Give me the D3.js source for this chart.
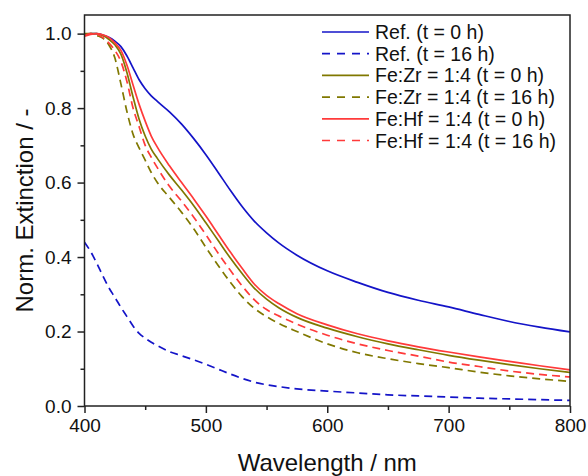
<!DOCTYPE html>
<html>
<head>
<meta charset="utf-8">
<script src="https://cdn.jsdelivr.net/npm/d3@7"></script>
<style>
body{margin:0;background:#fff;}
text{font-family:"Liberation Sans",Arial,sans-serif;fill:#111;}
</style>
</head>
<body>
<script>
let wavelength=[400,405,410,415,420,425,430,435,440,445,450,455,460,470,480,490,500,510,520,530,540,550,560,575,600,625,650,675,700,725,750,775,800];
let refT0=[0.998,1.0,1.0,0.996,0.99,0.98,0.965,0.94,0.908,0.876,0.852,0.833,0.818,0.79,0.757,0.718,0.675,0.628,0.58,0.535,0.496,0.465,0.438,0.405,0.363,0.332,0.305,0.284,0.266,0.246,0.227,0.212,0.199];
let refT16=[0.44,0.415,0.384,0.35,0.318,0.292,0.265,0.24,0.215,0.195,0.182,0.171,0.162,0.146,0.135,0.124,0.112,0.099,0.086,0.074,0.064,0.057,0.052,0.046,0.04,0.035,0.03,0.027,0.024,0.021,0.019,0.017,0.015];
let zrT0=[0.995,1.0,1.0,0.995,0.985,0.97,0.945,0.895,0.83,0.77,0.725,0.69,0.665,0.62,0.58,0.538,0.492,0.445,0.398,0.355,0.316,0.287,0.264,0.238,0.209,0.186,0.167,0.151,0.136,0.123,0.111,0.1,0.09];
let zrT16=[1.0,1.0,0.995,0.988,0.97,0.935,0.865,0.79,0.73,0.693,0.66,0.627,0.6,0.56,0.52,0.476,0.426,0.378,0.333,0.293,0.262,0.24,0.222,0.2,0.167,0.143,0.127,0.114,0.103,0.091,0.081,0.073,0.066];
let hfT0=[0.993,0.998,1.0,0.997,0.99,0.975,0.955,0.915,0.862,0.81,0.765,0.725,0.695,0.645,0.6,0.556,0.51,0.462,0.414,0.369,0.327,0.297,0.275,0.248,0.218,0.194,0.175,0.159,0.145,0.132,0.12,0.108,0.097];
let hfT16=[0.995,1.0,0.998,0.99,0.975,0.955,0.925,0.871,0.8,0.75,0.7,0.668,0.64,0.59,0.55,0.507,0.46,0.411,0.365,0.322,0.285,0.259,0.242,0.22,0.19,0.167,0.149,0.134,0.118,0.106,0.094,0.085,0.078];

let seriesNames=["Ref. (t = 0 h)","Ref. (t = 16 h)","Fe:Zr = 1:4 (t = 0 h)","Fe:Zr = 1:4 (t = 16 h)","Fe:Hf = 1:4 (t = 0 h)","Fe:Hf = 1:4 (t = 16 h)"];
let seriesValues=[refT0,refT16,zrT0,zrT16,hfT0,hfT16];
let seriesColors=["#1414c8","#1414c8","#807800","#807800","#ff3a3a","#ff3a3a"];
let seriesDashed=[false,true,false,true,false,true];

let xTicks=[400,500,600,700,800];
let xMinor=[450,550,650,750];
let yTicks=[0,0.2,0.4,0.6,0.8,1.0];
let yMinor=[0.1,0.3,0.5,0.7,0.9];

let svgWidth=588,svgHeight=476;
let plotL=84.5,plotR=570,plotT=15,plotB=406;

let svg=d3.select("body").append("svg")
    .attr("width",svgWidth)
    .attr("height",svgHeight);

let x=d3.scaleLinear().domain([400,800]).range([plotL,plotR]);
let y=d3.scaleLinear().domain([0,1.05]).range([plotB,plotT]);

svg.append("clipPath").attr("id","clip")
    .append("rect").attr("x",plotL).attr("y",plotT).attr("width",plotR-plotL).attr("height",plotB-plotT);

let line=d3.line()
    .x((d,i)=>x(wavelength[i]))
    .y(d=>y(d))
    .curve(d3.curveMonotoneX);

svg.append("g").attr("clip-path","url(#clip)")
    .selectAll("path")
    .data(seriesValues)
    .enter().append("path")
    .attr("d",d=>line(d))
    .attr("fill","none")
    .attr("stroke",(d,i)=>seriesColors[i])
    .attr("stroke-width",1.7)
    .attr("stroke-dasharray",(d,i)=>seriesDashed[i]?"8,5":null);

// frame
svg.append("rect")
    .attr("x",plotL).attr("y",plotT)
    .attr("width",plotR-plotL).attr("height",plotB-plotT)
    .attr("fill","none").attr("stroke","#222").attr("stroke-width",1.5);

svg.append("g").attr("transform","translate(0,"+plotB+")")
    .call(d3.axisBottom(x).tickValues(xTicks).tickSize(7).tickPadding(6).tickFormat(d3.format("d")));
svg.append("g").attr("transform","translate(0,"+plotB+")")
    .call(d3.axisBottom(x).tickValues(xMinor).tickSize(4).tickFormat(""));
svg.append("g").attr("transform","translate("+plotL+",0)")
    .call(d3.axisLeft(y).tickValues(yTicks).tickSize(7).tickPadding(6).tickFormat(d3.format(".1f")));
svg.append("g").attr("transform","translate("+plotL+",0)")
    .call(d3.axisLeft(y).tickValues(yMinor).tickSize(4).tickFormat(""));

svg.selectAll(".domain").remove();
svg.selectAll(".tick line").attr("stroke","#222").attr("stroke-width",1.5);
svg.selectAll(".tick text").attr("font-size",19).attr("fill","#111")
    .attr("font-family","'Liberation Sans',Arial,sans-serif");

svg.append("text")
    .attr("x",(plotL+plotR)/2).attr("y",471)
    .attr("text-anchor","middle")
    .attr("font-size",24)
    .text("Wavelength / nm");
svg.append("text")
    .attr("transform","translate(33,"+((plotT+plotB)/2)+") rotate(-90)")
    .attr("text-anchor","middle")
    .attr("font-size",24)
    .text("Norm. Extinction / -");

let legend=svg.append("g").selectAll("g")
    .data(seriesNames)
    .enter().append("g")
    .attr("transform",(d,i)=>"translate(322,"+(32+i*21.7)+")");
legend.append("line")
    .attr("x1",0).attr("x2",47)
    .attr("stroke",(d,i)=>seriesColors[i])
    .attr("stroke-width",1.7)
    .attr("stroke-dasharray",(d,i)=>seriesDashed[i]?"8,7":null);
legend.append("text")
    .attr("x",53).attr("y",7)
    .attr("font-size",19.5)
    .text(d=>d);
</script>
</body>
</html>
